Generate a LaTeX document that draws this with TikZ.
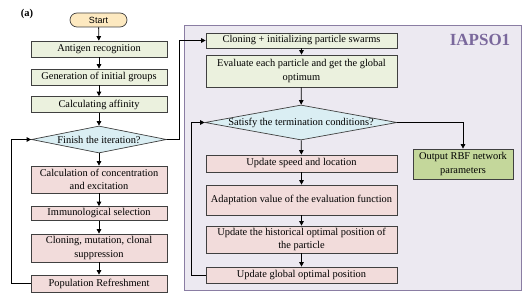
\documentclass[tikz,border=0pt]{standalone}
\usepackage{fontspec}
\setmainfont{Liberation Serif}
\setsansfont{Liberation Sans}
\usetikzlibrary{arrows.meta,positioning,shapes.geometric}
\definecolor{fillgreen}{HTML}{EBF1DE}
\definecolor{fillpink}{HTML}{F2DCDB}
\definecolor{fillblue}{HTML}{DAEEF3}
\definecolor{fillstart}{HTML}{FDE9C0}
\definecolor{filloutput}{HTML}{C4D79B}
\definecolor{framefill}{HTML}{ECE9F1}
\definecolor{framedraw}{HTML}{8A7DA3}
\definecolor{titlepurple}{HTML}{7A689C}

\begin{document}
\begin{tikzpicture}[x=1pt, y=-1pt,
      arr/.style={-{Triangle[length=4.5pt,width=4.5pt]}, line width=0.8pt, black},
      box/.style={draw=black!75, line width=0.7pt, fill=fillgreen,
                  minimum width=136pt, align=center, inner sep=1pt,
                  font=\fontsize{10.4}{13.5}\selectfont},
      boxP/.style={box, fill=fillpink},
      boxW/.style={minimum width=191pt},
      dia/.style={diamond, draw=black!75, line width=0.7pt, fill=fillblue,
                  inner sep=0pt, label={[font=\fontsize{10.4}{13}\selectfont]center:#1}},
      startbox/.style={draw=black!75, line width=0.7pt, fill=fillstart,
                  rounded corners=7pt, minimum width=57pt, minimum height=14pt,
                  inner sep=0pt, font=\sffamily\fontsize{9}{10}\selectfont},
    ]
    \useasboundingbox (0,0) rectangle (528,296);

    % IAPSO1 frame
    \node[draw=framedraw, fill=framefill, line width=0.9pt, minimum width=337pt,
          minimum height=265pt, inner sep=0pt] (iapso) at (352.5,157.5) {};
    \node[font=\bfseries\fontsize{17}{19}\selectfont, text=titlepurple] (ttl) at (480,39.5) {IAPSO1};
    \node[font=\bfseries\fontsize{10.5}{12}\selectfont] (lab) at (27,14) {(a)};

    % left column: immune algorithm
    \node[startbox] (start) at (98.5,20) {Start};
    \node[box, minimum height=16pt] (ant) at (99,49) {Antigen recognition};
    \node[box, minimum height=16pt] (gen) at (99,77) {Generation of initial groups};
    \node[box, minimum height=16pt] (aff) at (99,104.5) {Calculating affinity};
    \node[dia={Finish the iteration?}, minimum width=135pt, minimum height=27pt] (fin) at (99,139.5) {};
    \node[boxP, minimum height=27pt] (conc) at (99,179.5) {Calculation of concentration\\and excitation};
    \node[boxP, minimum height=14pt] (sel) at (99,213.5) {Immunological selection};
    \node[boxP, minimum height=28pt] (clo) at (99,248) {Cloning, mutation, clonal\\suppression};
    \node[boxP, minimum height=17pt] (pop) at (99,283.5) {Population Refreshment};

    % right column: particle swarm
    \node[box, boxW, minimum height=15pt] (init) at (301.5,40.5) {Cloning + initializing particle swarms};
    \node[box, boxW, minimum height=32pt] (eval) at (301.5,71) {Evaluate each particle and get the global\\optimum};
    \node[dia={Satisfy the termination conditions?}, minimum width=192pt, minimum height=35pt] (sat) at (301,122.5) {};
    \node[boxP, boxW, minimum height=17pt] (upd) at (301.5,163.5) {Update speed and location};
    \node[boxP, boxW, minimum height=30pt] (ada) at (301.5,200) {Adaptation value of the evaluation function};
    \node[boxP, boxW, minimum height=27pt] (hist) at (301.5,239.5) {Update the historical optimal position of\\the particle};
    \node[boxP, boxW, minimum height=16pt] (glob) at (301.5,275) {Update global optimal position};
    \node[box, fill=filloutput, minimum width=100pt, minimum height=30pt] (out) at (463,164) {Output RBF network\\parameters};

    \draw[arr] (start) -- (ant);
    \draw[arr] (ant) -- (gen);
    \draw[arr] (gen) -- (aff);
    \draw[arr] (aff) -- (fin);
    \draw[arr] (fin) -- (conc);
    \draw[arr] (conc) -- (sel);
    \draw[arr] (sel) -- (clo);
    \draw[arr] (clo) -- (pop);
    \draw[arr] (pop.west) -- ++(-19,0) |- (fin.west);
    \draw[arr] (fin.east) -- ++(13,0) |- (init.west);

    \draw[arr] (init) -- (eval);
    \draw[arr] (eval) -- (sat);
    \draw[arr] (sat) -- (upd);
    \draw[arr] (upd) -- (ada);
    \draw[arr] (ada) -- (hist);
    \draw[arr] (hist) -- (glob);
    \draw[arr] (glob.west) -- ++(-14,0) |- (sat.west);
    \draw[arr] (sat.east) -| (out.north);
  \end{tikzpicture}
\end{document}
